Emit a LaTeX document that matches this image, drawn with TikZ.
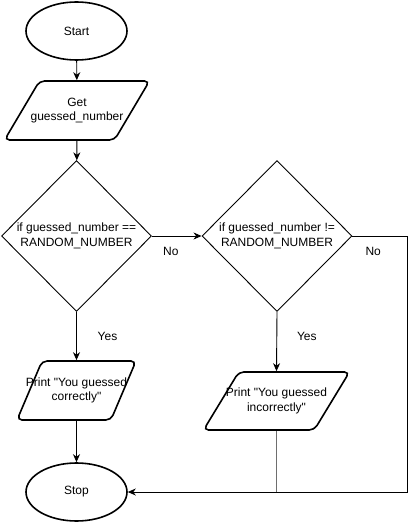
\documentclass[tikz,border=0pt]{standalone}
\usepackage{fontspec}
\setmainfont{Liberation Sans}[Ligatures=TeXOff]
\usetikzlibrary{arrows.meta, positioning, shapes.geometric}
\definecolor{ink}{HTML}{000000}
\definecolor{joinline}{HTML}{6E6E6E}
\tikzset{
  font=\fontsize{12bp}{14.5bp}\selectfont,
  >={Stealth[length=8bp, width=7bp, inset=2.5bp]},
  %
  term/.style={ellipse, draw=ink, line width=1.6bp, inner sep=0pt,
               minimum width=101bp, minimum height=58bp, align=center},
  io/.style={trapezium, trapezium stretches=true, draw=ink, line width=1.6bp,
             rounded corners=5bp, inner sep=2pt, minimum height=59bp,
             trapezium left angle=65, trapezium right angle=115},
  iolbl/.style={align=center, inner sep=0pt},
  test/.style={diamond, draw=ink, line width=0.9bp, inner sep=0pt, aspect=1,
               minimum width=150bp, minimum height=151bp, align=center},
  %
  flow/.style={draw=ink, line width=0.9bp, ->},
  merge/.style={draw=joinline, line width=0.9bp},
  lbl/.style={inner sep=0pt, text=ink},
}
\begin{document}
\begin{tikzpicture}[x=1bp, y=-1bp]

  \useasboundingbox (0,0) rectangle (415,522);

  \node[term] (start) at (76.5,31) {Start};
  \node[io, minimum width=145bp,
        label={[iolbl]center:{Get\\guessed\_number}}] (get) at (77,110.5) {};

  \node[test] (eq) at (76.5,236) {if guessed\_number ==\\RANDOM\_NUMBER};
  \node[test] (neq) at (277,236) {if guessed\_number !=\\RANDOM\_NUMBER};

  \node[io, minimum width=119bp,
        trapezium left angle=70, trapezium right angle=110,
        label={[iolbl]center:{Print "You guessed\\correctly"}}]
    (right) at (76.5,390.5) {};
  \node[io, minimum width=146bp, minimum height=58bp,
        label={[iolbl]center:{Print "You guessed\\incorrectly"}}]
    (wrong) at (276.5,401) {};

  \node[term] (stop) at (76.5,492) {Stop};

  % main line
  \draw[flow] (start) -- (get);
  \draw[flow] (get) -- (eq);
  \draw[flow] (eq.east) -- (neq.west)
    node[lbl, pos=0.38, yshift=-15bp] {No};
  \draw[flow] (eq.south) -- (right.north)
    node[lbl, midway, xshift=31bp] {Yes};
  \draw[flow] (neq.south) -- (wrong.north)
    node[lbl, pos=0.41, xshift=30bp] {Yes};
  \draw[flow] (right) -- (stop);

  % both "no" and "incorrect" end in stop
  \coordinate (edge) at (407,236);
  \draw[flow] (neq.east) -- (edge)
    node[lbl, pos=0.38, yshift=-15bp] {No}
    |- (stop.east);
  \draw[merge] (wrong.south) -- (wrong.south |- stop.east);

\end{tikzpicture}
\end{document}
